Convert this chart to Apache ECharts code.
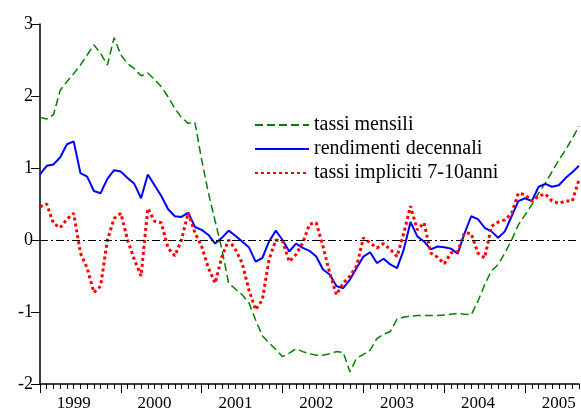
<!DOCTYPE html>
<html>
<head>
<meta charset="utf-8">
<script src="https://cdn.jsdelivr.net/npm/echarts@6.0.0/dist/echarts.min.js"></script>
<style>
  html, body { margin: 0; padding: 0; background: #fff; }
  #chart { width: 581px; height: 415px; }
</style>
</head>
<body>
<div id="chart"></div>
<script>
// anni sull'asse, dati mensili da gen 1999 a set 2005
var years = ['1999', '2000', '2001', '2002', '2003', '2004', '2005'];
var monthsInLastYear = 9;

var seriesNames = ['tassi mensili', 'rendimenti decennali', 'tassi impliciti 7-10anni'];

var tassiMensili = [
  1.70, 1.68, 1.74, 2.08, 2.20, 2.31, 2.43, 2.57, 2.71, 2.59, 2.43, 2.81,
  2.57, 2.45, 2.38, 2.28, 2.32, 2.23, 2.13, 1.99, 1.83, 1.70, 1.62, 1.63,
  1.11, 0.65, 0.26, -0.13, -0.60, -0.68, -0.76, -0.87, -1.11, -1.33, -1.43, -1.52,
  -1.62, -1.57, -1.51, -1.55, -1.58, -1.60, -1.60, -1.58, -1.55, -1.56, -1.83, -1.64,
  -1.59, -1.53, -1.37, -1.31, -1.27, -1.10, -1.07, -1.06, -1.05, -1.05, -1.05, -1.05,
  -1.04, -1.03, -1.02, -1.03, -1.04, -0.85, -0.62, -0.43, -0.34, -0.18, 0.00, 0.21,
  0.35, 0.49, 0.65, 0.79, 0.95, 1.11, 1.25, 1.41, 1.58
];

var rendimentiDecennali = [
  0.91, 1.03, 1.05, 1.15, 1.33, 1.37, 0.93, 0.88, 0.68, 0.65, 0.85, 0.97,
  0.95, 0.86, 0.78, 0.58, 0.91, 0.76, 0.61, 0.43, 0.33, 0.32, 0.38, 0.18,
  0.14, 0.07, -0.05, 0.03, 0.13, 0.06, -0.02, -0.10, -0.30, -0.25, -0.02, 0.13,
  0.00, -0.16, -0.05, -0.11, -0.15, -0.23, -0.41, -0.48, -0.64, -0.67, -0.55, -0.39,
  -0.23, -0.17, -0.32, -0.26, -0.34, -0.39, -0.13, 0.25, 0.05, -0.02, -0.13, -0.09,
  -0.10, -0.12, -0.19, 0.09, 0.33, 0.29, 0.17, 0.12, 0.03, 0.12, 0.33, 0.54,
  0.58, 0.54, 0.74, 0.78, 0.74, 0.76, 0.86, 0.94, 1.03
];

var tassiImpliciti = [
  0.46, 0.50, 0.23, 0.17, 0.29, 0.37, -0.18, -0.39, -0.73, -0.64, 0.00, 0.30,
  0.37, 0.00, -0.27, -0.50, 0.44, 0.26, 0.24, -0.11, -0.22, 0.00, 0.38, 0.10,
  -0.09, -0.39, -0.60, -0.23, 0.00, -0.13, -0.32, -0.69, -0.97, -0.83, -0.27, 0.00,
  -0.02, -0.30, -0.20, -0.04, 0.22, 0.24, -0.09, -0.46, -0.76, -0.60, -0.50, -0.36,
  0.03, -0.04, -0.11, -0.05, -0.13, -0.23, 0.10, 0.47, 0.14, 0.24, -0.18, -0.24,
  -0.33, -0.18, -0.16, 0.10, 0.09, -0.18, -0.25, 0.19, 0.25, 0.28, 0.37, 0.65,
  0.63, 0.54, 0.61, 0.64, 0.54, 0.51, 0.54, 0.54, 0.84
];

// etichette mensili 'YYYY-MM'
var months = [];
years.forEach(function (y, k) {
  var n = (k === years.length - 1) ? monthsInLastYear : 12;
  for (var m = 1; m <= n; m++) {
    months.push(y + '-' + (m < 10 ? '0' + m : m));
  }
});

var font = 'Liberation Serif';
var chart = echarts.init(document.getElementById('chart'));
chart.setOption({
  animation: false,
  textStyle: { fontFamily: font },
  grid: { left: 40, right: 2, top: 24, bottom: 31 },
  legend: {
    orient: 'vertical',
    left: 249,
    top: 110,
    itemWidth: 54,
    itemHeight: 14,
    itemGap: 4,
    itemStyle: { opacity: 0 },
    textStyle: { fontFamily: font, fontSize: 20, color: '#000', lineHeight: 20 },
    data: seriesNames
  },
  xAxis: [
    {
      type: 'category',
      data: months,
      boundaryGap: false,
      position: 'bottom',
      axisLine: { onZero: false, lineStyle: { color: '#000', width: 1.5 } },
      axisTick: { interval: 0, length: 5, lineStyle: { color: '#000', width: 1 } },
      axisLabel: {
        interval: function (index) { return index % 12 === 5; },
        formatter: function (value) { return value.slice(0, 4); },
        color: '#000',
        fontFamily: font,
        fontSize: 17,
        margin: 11
      },
      splitLine: { show: false }
    },
    {
      type: 'category',
      data: months,
      boundaryGap: false,
      position: 'bottom',
      axisLine: { show: false, onZero: false },
      axisTick: {
        interval: function (index) { return index % 12 === 0; },
        length: 9,
        lineStyle: { color: '#000', width: 1 }
      },
      axisLabel: { show: false },
      splitLine: { show: false }
    }
  ],
  yAxis: {
    type: 'value',
    min: -2,
    max: 3,
    interval: 1,
    axisLine: { show: true, lineStyle: { color: '#000', width: 1.5 } },
    axisTick: { show: true, length: 9, lineStyle: { color: '#000', width: 1 } },
    axisLabel: { color: '#000', fontFamily: font, fontSize: 18, margin: 7 },
    splitLine: { show: false }
  },
  series: [
    {
      name: seriesNames[0],
      type: 'line',
      data: tassiMensili,
      symbol: 'none',
      lineStyle: { color: '#008000', width: 1.5, type: [8, 4] },
      itemStyle: { color: '#008000' },
      markLine: {
        silent: true,
        symbol: ['none', 'none'],
        label: { show: false },
        lineStyle: { color: '#000', width: 1, type: [8, 3, 2, 3] },
        data: [{ yAxis: 0 }]
      }
    },
    {
      name: seriesNames[1],
      type: 'line',
      data: rendimentiDecennali,
      symbol: 'none',
      lineStyle: { color: '#0000ff', width: 2 },
      itemStyle: { color: '#0000ff' }
    },
    {
      name: seriesNames[2],
      type: 'line',
      data: tassiImpliciti,
      symbol: 'none',
      lineStyle: { color: '#ff0000', width: 3, type: [3, 3] },
      itemStyle: { color: '#ff0000' }
    }
  ]
});
</script>
</body>
</html>
